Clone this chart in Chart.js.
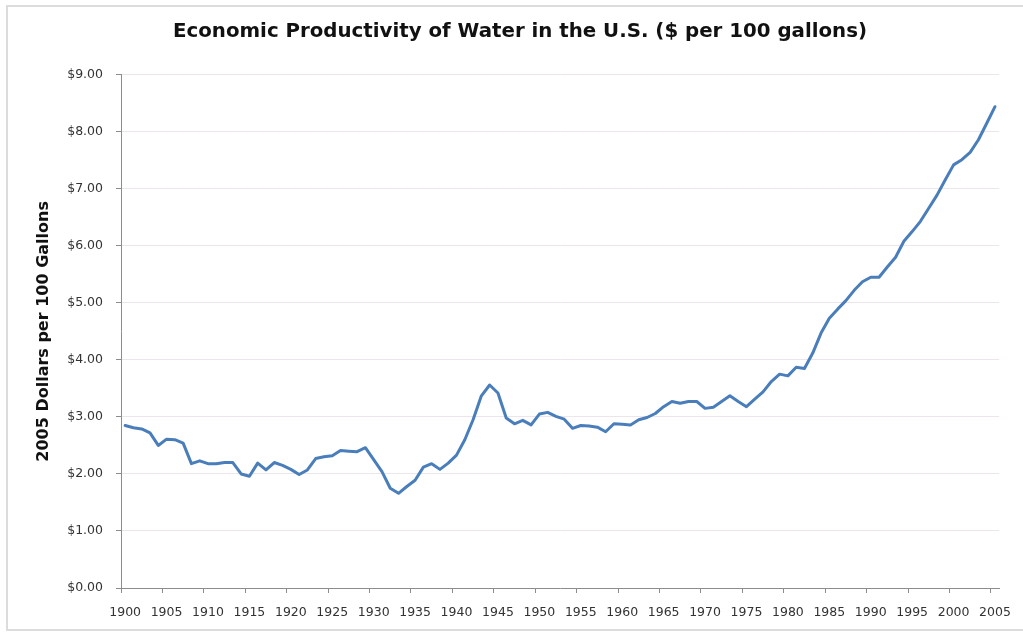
<!DOCTYPE html>
<html>
<head>
<meta charset="utf-8">
<title>Economic Productivity of Water</title>
<script src="https://cdn.jsdelivr.net/npm/chart.js@4/dist/chart.umd.min.js"></script>
<style>
    html, body { margin: 0; padding: 0; background: #fff; overflow: hidden; }
    .chart-wrap { position: relative; width: 1023px; height: 634px; }
    .chart-frame {
        position: absolute; left: 6px; top: 5px; width: 1030px; height: 626px;
        border: 2px solid #dcdcdc; box-sizing: border-box; pointer-events: none;
    }
    canvas { position: absolute; left: 0; top: 0; }
</style>
</head>
<body>
<div class="chart-wrap">
    <div class="chart-frame"></div>
    <canvas id="waterChart" width="1023" height="634"></canvas>
</div>
<script>
// Data (2005 dollars per 100 gallons)
const years = [
    "1900", "1901", "1902", "1903", "1904", "1905", "1906", "1907", "1908", "1909",
    "1910", "1911", "1912", "1913", "1914", "1915", "1916", "1917", "1918", "1919",
    "1920", "1921", "1922", "1923", "1924", "1925", "1926", "1927", "1928", "1929",
    "1930", "1931", "1932", "1933", "1934", "1935", "1936", "1937", "1938", "1939",
    "1940", "1941", "1942", "1943", "1944", "1945", "1946", "1947", "1948", "1949",
    "1950", "1951", "1952", "1953", "1954", "1955", "1956", "1957", "1958", "1959",
    "1960", "1961", "1962", "1963", "1964", "1965", "1966", "1967", "1968", "1969",
    "1970", "1971", "1972", "1973", "1974", "1975", "1976", "1977", "1978", "1979",
    "1980", "1981", "1982", "1983", "1984", "1985", "1986", "1987", "1988", "1989",
    "1990", "1991", "1992", "1993", "1994", "1995", "1996", "1997", "1998", "1999",
    "2000", "2001", "2002", "2003", "2004", "2005"
];

const productivity = [
    2.85, 2.81, 2.79, 2.72, 2.50, 2.61, 2.60, 2.54, 2.18, 2.23,
    2.18, 2.18, 2.20, 2.20, 2.00, 1.96, 2.19, 2.07, 2.20, 2.15,
    2.08, 1.99, 2.07, 2.27, 2.30, 2.32, 2.41, 2.40, 2.39, 2.46,
    2.25, 2.04, 1.75, 1.66, 1.78, 1.89, 2.12, 2.18, 2.08, 2.19,
    2.33, 2.60, 2.95, 3.37, 3.56, 3.42, 2.98, 2.88, 2.94, 2.86,
    3.05, 3.08, 3.01, 2.96, 2.80, 2.85, 2.84, 2.82, 2.74, 2.88,
    2.87, 2.86, 2.95, 2.99, 3.06, 3.18, 3.27, 3.24, 3.27, 3.27,
    3.15, 3.17, 3.27, 3.37, 3.27, 3.18, 3.31, 3.44, 3.62, 3.75,
    3.72, 3.87, 3.85, 4.12, 4.47, 4.73, 4.89, 5.04, 5.22, 5.37,
    5.45, 5.45, 5.63, 5.80, 6.08, 6.25, 6.43, 6.66, 6.89, 7.16,
    7.42, 7.51, 7.64, 7.86, 8.15, 8.44
];

const yTickLabels = ["$0.00", "$1.00", "$2.00", "$3.00", "$4.00", "$5.00", "$6.00", "$7.00", "$8.00", "$9.00"];

const chartTitle = "Economic Productivity of Water in the U.S. ($ per 100 gallons)";
const yTitle = "2005 Dollars per 100 Gallons";

const axisGray = "#8c8c8c";
const labelFont = { family: "DejaVu Sans", size: 12.5 };

const ctx = document.getElementById("waterChart").getContext("2d");

new Chart(ctx, {
    type: "line",
    data: {
        labels: years,
        datasets: [{
            data: productivity,
            borderColor: "#4a7ebb",
            borderWidth: 3,
            borderJoinStyle: "round",
            borderCapStyle: "round",
            pointRadius: 0,
            tension: 0,
            fill: false
        }]
    },
    options: {
        responsive: false,
        animation: false,
        layout: {
            // uneven side padding so the title sits where the original has it
            padding: { top: 0, right: 19, bottom: 0, left: 36 }
        },
        plugins: {
            legend: { display: false },
            tooltip: { enabled: false },
            title: {
                display: true,
                text: chartTitle,
                color: "#111",
                font: { family: "DejaVu Sans", size: 19.8, weight: "bold" },
                padding: { top: 20, bottom: 31 }
            }
        },
        scales: {
            x: {
                type: "category",
                offset: true,
                afterFit: scale => { scale.height = 46; },
                border: { display: true, color: axisGray, width: 1 },
                grid: {
                    display: true,
                    offset: true,
                    drawOnChartArea: false,
                    drawTicks: true,
                    tickLength: 5,
                    tickColor: c => (c.index % 5 === 0 ? axisGray : "rgba(0,0,0,0)")
                },
                ticks: {
                    autoSkip: false,
                    maxRotation: 0,
                    minRotation: 0,
                    padding: 12,
                    color: "#333",
                    font: labelFont,
                    callback: (value, index) => (index % 5 === 0 ? years[index] : "")
                }
            },
            y: {
                min: 0,
                max: 9,
                afterFit: scale => { scale.width = 85; },
                border: { display: true, color: axisGray, width: 1 },
                grid: {
                    color: "#ece5ec",
                    lineWidth: 1,
                    drawTicks: true,
                    tickLength: 5,
                    tickColor: axisGray
                },
                ticks: {
                    stepSize: 1,
                    padding: 13,
                    color: "#333",
                    font: labelFont,
                    callback: value => yTickLabels[value]
                },
                title: {
                    display: true,
                    text: yTitle,
                    color: "#111",
                    font: { family: "DejaVu Sans", size: 16, weight: "bold", lineHeight: 1 },
                    padding: { top: 0, bottom: 0 }
                }
            }
        }
    }
});
</script>
</body>
</html>
